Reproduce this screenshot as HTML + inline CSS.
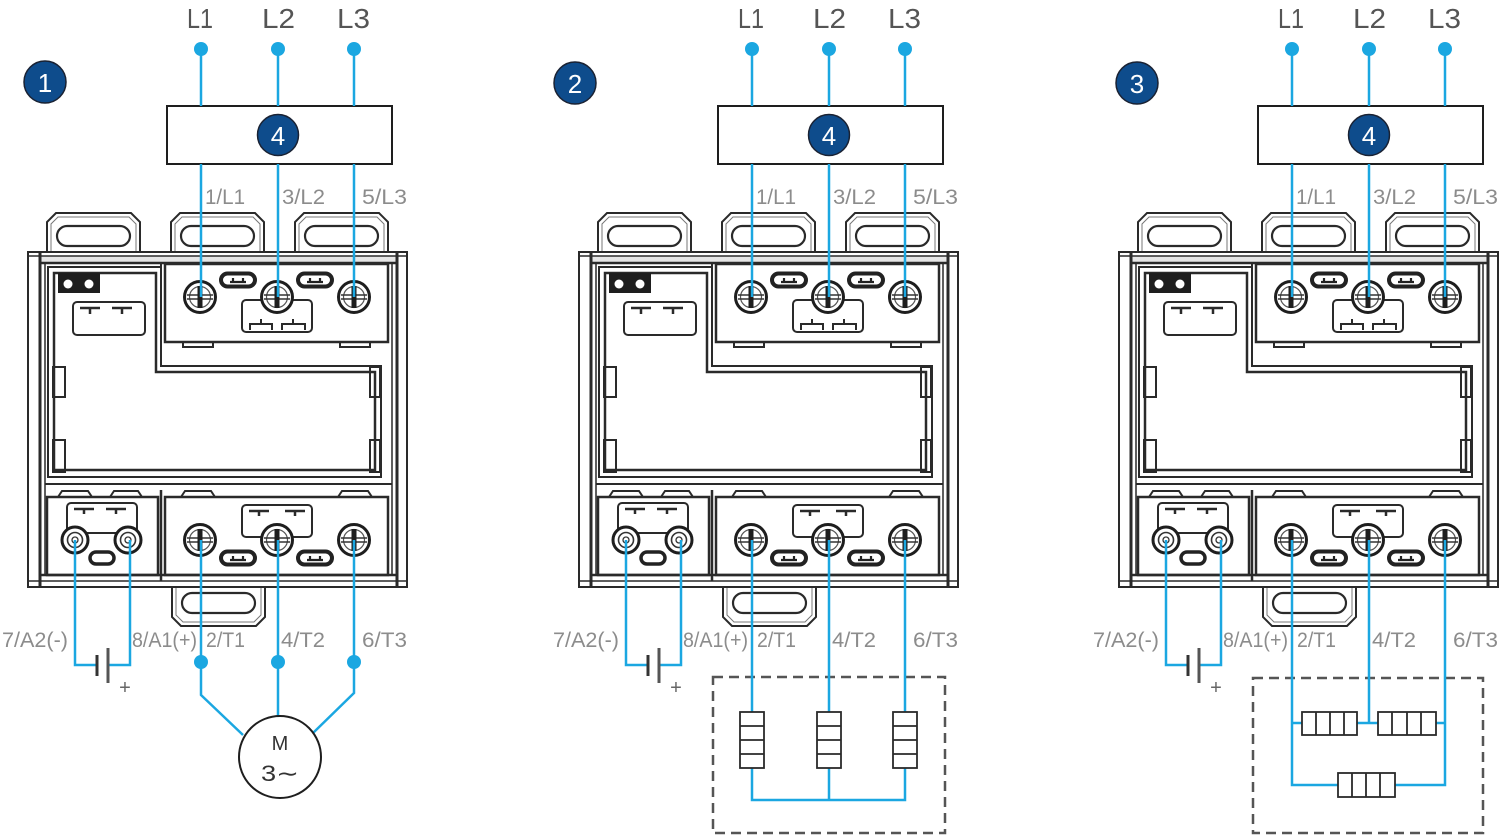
<!DOCTYPE html>
<html><head><meta charset="utf-8"><style>
html,body{margin:0;padding:0;background:#fff;width:1500px;height:837px;overflow:hidden}
svg{display:block}
text{font-family:"Liberation Sans",sans-serif}
</style></head><body>
<svg width="1500" height="837" viewBox="0 0 1500 837" xmlns="http://www.w3.org/2000/svg">
<defs>
<g id="scr">
 <circle r="15.5" fill="#fff" stroke="#1e1e1e" stroke-width="3"/>
 <circle r="10.5" fill="none" stroke="#555" stroke-width="1.2"/>
 <line x1="-13" y1="-2" x2="13" y2="-2" stroke="#333" stroke-width="1.4"/>
 <line x1="-13" y1="2" x2="13" y2="2" stroke="#333" stroke-width="1.4"/>
 <rect x="-2.5" y="-11" width="5" height="22" fill="#1e1e1e"/>
</g>
<g id="sscr">
 <circle r="13" fill="#fff" stroke="#1e1e1e" stroke-width="3"/>
 <circle r="7.5" fill="none" stroke="#333" stroke-width="1.6"/>
 <circle r="3" fill="none" stroke="#333" stroke-width="1.3"/>
</g>
<g id="ov"><rect x="-17" y="-6.5" width="34" height="13" rx="6.5" fill="#fff" stroke="#222" stroke-width="4"/><path d="M-8,2 H8 M-5,2 V-2 M5,2 V-2" stroke="#222" stroke-width="2.2" fill="none"/></g>
<g id="tab"><path d="M0,39 V9 L9,0 H84 L93,9 V39" fill="#fff" stroke="#2a2a2a" stroke-width="2"/><path d="M4,39 V11 L11,4 H82 L89,11 V39" fill="none" stroke="#777" stroke-width="1"/><rect x="10" y="13" width="73" height="20" rx="10" fill="none" stroke="#2a2a2a" stroke-width="2.2"/></g>
<g id="body">
 <use href="#tab" transform="translate(47,213)"/>
 <use href="#tab" transform="translate(171,213)"/>
 <use href="#tab" transform="translate(295,213)"/>
 <use href="#tab" transform="translate(172,626) scale(1,-1)"/>
 <g fill="none" stroke="#2a2a2a" stroke-width="2">
  <rect x="28" y="252" width="379" height="335" fill="#fff"/>
  <rect x="40" y="256" width="357" height="7" fill="#e6e6e6" stroke="none"/>
  <line x1="40" y1="252" x2="40" y2="587" stroke-width="3"/>
  <line x1="45" y1="263" x2="45" y2="575" stroke-width="1.5"/>
  <line x1="397" y1="252" x2="397" y2="587" stroke-width="3"/>
  <line x1="392" y1="263" x2="392" y2="575" stroke-width="1.5"/>
  <line x1="28" y1="256" x2="407" y2="256" stroke-width="1.5"/>
  <line x1="40" y1="263" x2="397" y2="263" stroke-width="2.5"/>
  <line x1="40" y1="575" x2="397" y2="575" stroke-width="2.5"/>
  <line x1="28" y1="581" x2="407" y2="581" stroke-width="1.5"/>
  <rect x="165" y="264" width="223" height="78" stroke-width="2.5"/>
  <line x1="161" y1="264" x2="161" y2="366"/>
  <rect x="183" y="342" width="30" height="5"/>
  <rect x="340" y="342" width="30" height="5"/>
  <rect x="242" y="300" width="70" height="32" rx="4"/>
  <path d="M250,330 V324 H272 V330 M261,324 V319 M282,330 V324 H305 V330 M293,324 V319"/>
  <path d="M48,267 H161 V366 H381 V477 H48 Z"/>
  <path d="M54,273 H156 V372 H375 V470 H54 Z" stroke-width="2.5"/>
  <rect x="53" y="367" width="12" height="30"/>
  <rect x="53" y="440" width="12" height="32"/>
  <rect x="370" y="367" width="10" height="30"/>
  <rect x="370" y="440" width="10" height="32"/>
  <rect x="73" y="302" width="72" height="33" rx="4"/>
  <path d="M80,308 H100 M90,308 V314 M112,308 H132 M122,308 V314" stroke-width="2.5"/>
  <line x1="45" y1="484" x2="392" y2="484"/>
  <path d="M58,497 L62,491 H88 L92,497 M110,497 L114,491 H138 L142,497 M181,497 L185,491 H211 L215,497 M338,497 L342,491 H368 L372,497"/>
  <rect x="47" y="497" width="111" height="78" stroke-width="2.5"/>
  <rect x="165" y="497" width="223" height="78" stroke-width="2.5"/>
  <line x1="161" y1="490" x2="161" y2="581" stroke-width="2.5"/>
  <rect x="67" y="503" width="70" height="30" rx="4"/>
  <path d="M74,509 H94 M84,509 V514 M106,509 H126 M116,509 V514" stroke-width="2.5"/>
  <rect x="242" y="505" width="70" height="32" rx="4"/>
  <path d="M249,511 H269 M259,511 V516 M285,511 H305 M295,511 V516" stroke-width="2.5"/>
 </g>
 <rect x="58" y="273" width="42" height="20" fill="#1e1e1e"/>
 <circle cx="68" cy="284" r="4.5" fill="#fff"/>
 <circle cx="89" cy="284" r="4.5" fill="#fff"/>
 <use href="#ov" x="238" y="280"/>
 <use href="#ov" x="315" y="280"/>
 <use href="#scr" x="200" y="297"/>
 <use href="#scr" x="277" y="297"/>
 <use href="#scr" x="354" y="297"/>
 <use href="#ov" x="238" y="558"/>
 <use href="#ov" x="315" y="558"/>
 <use href="#scr" x="200" y="540"/>
 <use href="#scr" x="277" y="540"/>
 <use href="#scr" x="354" y="540"/>
 <use href="#sscr" x="75" y="540"/>
 <use href="#sscr" x="128" y="540"/>
 <rect x="90" y="552" width="24" height="12" rx="6" fill="#fff" stroke="#222" stroke-width="3.5"/>
 <rect x="167" y="106" width="225" height="58" fill="#fff" stroke="#1e1e1e" stroke-width="2"/>
 <circle cx="278" cy="135" r="20.5" fill="#0e4c8c" stroke="#1a2233" stroke-width="1.5"/>
 <g stroke="#1ba7e1" stroke-width="2.5" fill="none">
  <path d="M201,49 V106 M201,164 V297 M278,49 V106 M278,164 V297 M354,49 V106 M354,164 V297"/>
  <path d="M75,540 V665 H97 M108,665 H130 V540"/>
 </g>
 <g fill="#1ba7e1"><circle cx="201" cy="49" r="7"/><circle cx="278" cy="49" r="7"/><circle cx="354" cy="49" r="7"/></g>
 <line x1="97" y1="655" x2="97" y2="676" stroke="#333" stroke-width="3"/>
 <line x1="108" y1="648" x2="108" y2="683" stroke="#555" stroke-width="3"/>
</g>
</defs>

<use href="#body"/>
<g stroke="#1ba7e1" stroke-width="2.5" fill="none">
 <path d="M201,540 V695 L243,735 M278,540 V717 M354,540 V693 L313,733"/>
</g>
<g fill="#1ba7e1"><circle cx="201" cy="662" r="7"/><circle cx="278" cy="662" r="7"/><circle cx="354" cy="662" r="7"/></g>
<circle cx="280" cy="757" r="41" fill="#fff" stroke="#1e1e1e" stroke-width="2"/>
<text x="280" y="750" font-size="20" fill="#333" text-anchor="middle">M</text>
<text x="261" y="781" font-size="22" fill="#333" textLength="38" lengthAdjust="spacingAndGlyphs">3∼</text>

<use href="#body" x="551"/>
<rect x="713" y="677" width="232" height="156" fill="none" stroke="#555" stroke-width="2.5" stroke-dasharray="10 6"/>
<g stroke="#1ba7e1" stroke-width="2.5" fill="none">
 <path d="M752,540 V712 M829,540 V712 M905,540 V712 M752,768 V800 H905 V768 M829,768 V800"/>
</g>
<g fill="#fff" stroke="#2a2a2a" stroke-width="1.8">
 <rect x="740" y="712" width="24" height="56"/><path d="M740,726 H764 M740,740 H764 M740,754 H764" fill="none"/>
 <rect x="817" y="712" width="24" height="56"/><path d="M817,726 H841 M817,740 H841 M817,754 H841" fill="none"/>
 <rect x="893" y="712" width="24" height="56"/><path d="M893,726 H917 M893,740 H917 M893,754 H917" fill="none"/>
</g>

<use href="#body" x="1091"/>
<rect x="1253" y="678" width="230" height="155" fill="none" stroke="#555" stroke-width="2.5" stroke-dasharray="10 6"/>
<g stroke="#1ba7e1" stroke-width="2.5" fill="none">
 <path d="M1292,540 V785 H1338 M1395,785 H1445 V540 M1292,723 H1302 M1357,723 H1378 M1369,540 V723 M1436,723 H1445"/>
</g>
<g fill="#fff" stroke="#2a2a2a" stroke-width="1.8">
 <rect x="1302" y="712" width="55" height="23"/><path d="M1316,712 V735 M1330,712 V735 M1344,712 V735" fill="none"/>
 <rect x="1378" y="712" width="58" height="23"/><path d="M1392,712 V735 M1407,712 V735 M1421,712 V735" fill="none"/>
 <rect x="1338" y="773" width="57" height="24"/><path d="M1352,773 V797 M1366,773 V797 M1380,773 V797" fill="none"/>
</g>

<g fill="#0e4c8c" stroke="#1a2233" stroke-width="1.5">
 <circle cx="45" cy="82" r="21"/><circle cx="575" cy="83" r="21"/><circle cx="1137" cy="83" r="21"/>
</g>
<g fill="#fff" font-size="26" text-anchor="middle">
 <text x="45" y="92">1</text><text x="575" y="93">2</text><text x="1137" y="93">3</text>
 <text x="278" y="145">4</text><text x="829" y="145">4</text><text x="1369" y="145">4</text>
</g>

<g fill="#555" font-size="28">
 <text x="187" y="28" textLength="26" lengthAdjust="spacingAndGlyphs">L1</text>
 <text x="262" y="28" textLength="33" lengthAdjust="spacingAndGlyphs">L2</text>
 <text x="337" y="28" textLength="33" lengthAdjust="spacingAndGlyphs">L3</text>
 <text x="738" y="28" textLength="26" lengthAdjust="spacingAndGlyphs">L1</text>
 <text x="813" y="28" textLength="33" lengthAdjust="spacingAndGlyphs">L2</text>
 <text x="888" y="28" textLength="33" lengthAdjust="spacingAndGlyphs">L3</text>
 <text x="1278" y="28" textLength="26" lengthAdjust="spacingAndGlyphs">L1</text>
 <text x="1353" y="28" textLength="33" lengthAdjust="spacingAndGlyphs">L2</text>
 <text x="1428" y="28" textLength="33" lengthAdjust="spacingAndGlyphs">L3</text>
</g>

<g fill="#8c8c8c" font-size="21">
 <text x="205" y="204" textLength="40" lengthAdjust="spacingAndGlyphs">1/L1</text>
 <text x="282" y="204" textLength="43" lengthAdjust="spacingAndGlyphs">3/L2</text>
 <text x="362" y="204" textLength="45" lengthAdjust="spacingAndGlyphs">5/L3</text>
 <text x="756" y="204" textLength="40" lengthAdjust="spacingAndGlyphs">1/L1</text>
 <text x="833" y="204" textLength="43" lengthAdjust="spacingAndGlyphs">3/L2</text>
 <text x="913" y="204" textLength="45" lengthAdjust="spacingAndGlyphs">5/L3</text>
 <text x="1296" y="204" textLength="40" lengthAdjust="spacingAndGlyphs">1/L1</text>
 <text x="1373" y="204" textLength="43" lengthAdjust="spacingAndGlyphs">3/L2</text>
 <text x="1453" y="204" textLength="45" lengthAdjust="spacingAndGlyphs">5/L3</text>

 <text x="2" y="647" textLength="66" lengthAdjust="spacingAndGlyphs">7/A2(-)</text>
 <text x="132" y="647" textLength="65" lengthAdjust="spacingAndGlyphs">8/A1(+)</text>
 <text x="206" y="647" textLength="39" lengthAdjust="spacingAndGlyphs">2/T1</text>
 <text x="281" y="647" textLength="44" lengthAdjust="spacingAndGlyphs">4/T2</text>
 <text x="362" y="647" textLength="45" lengthAdjust="spacingAndGlyphs">6/T3</text>

 <text x="553" y="647" textLength="66" lengthAdjust="spacingAndGlyphs">7/A2(-)</text>
 <text x="683" y="647" textLength="65" lengthAdjust="spacingAndGlyphs">8/A1(+)</text>
 <text x="757" y="647" textLength="39" lengthAdjust="spacingAndGlyphs">2/T1</text>
 <text x="832" y="647" textLength="44" lengthAdjust="spacingAndGlyphs">4/T2</text>
 <text x="913" y="647" textLength="45" lengthAdjust="spacingAndGlyphs">6/T3</text>

 <text x="1093" y="647" textLength="66" lengthAdjust="spacingAndGlyphs">7/A2(-)</text>
 <text x="1223" y="647" textLength="65" lengthAdjust="spacingAndGlyphs">8/A1(+)</text>
 <text x="1297" y="647" textLength="39" lengthAdjust="spacingAndGlyphs">2/T1</text>
 <text x="1372" y="647" textLength="44" lengthAdjust="spacingAndGlyphs">4/T2</text>
 <text x="1453" y="647" textLength="45" lengthAdjust="spacingAndGlyphs">6/T3</text>
</g>
<g fill="#666" font-size="20" text-anchor="middle">
 <text x="125" y="694">+</text><text x="676" y="694">+</text><text x="1216" y="694">+</text>
</g>
</svg>
</body></html>
